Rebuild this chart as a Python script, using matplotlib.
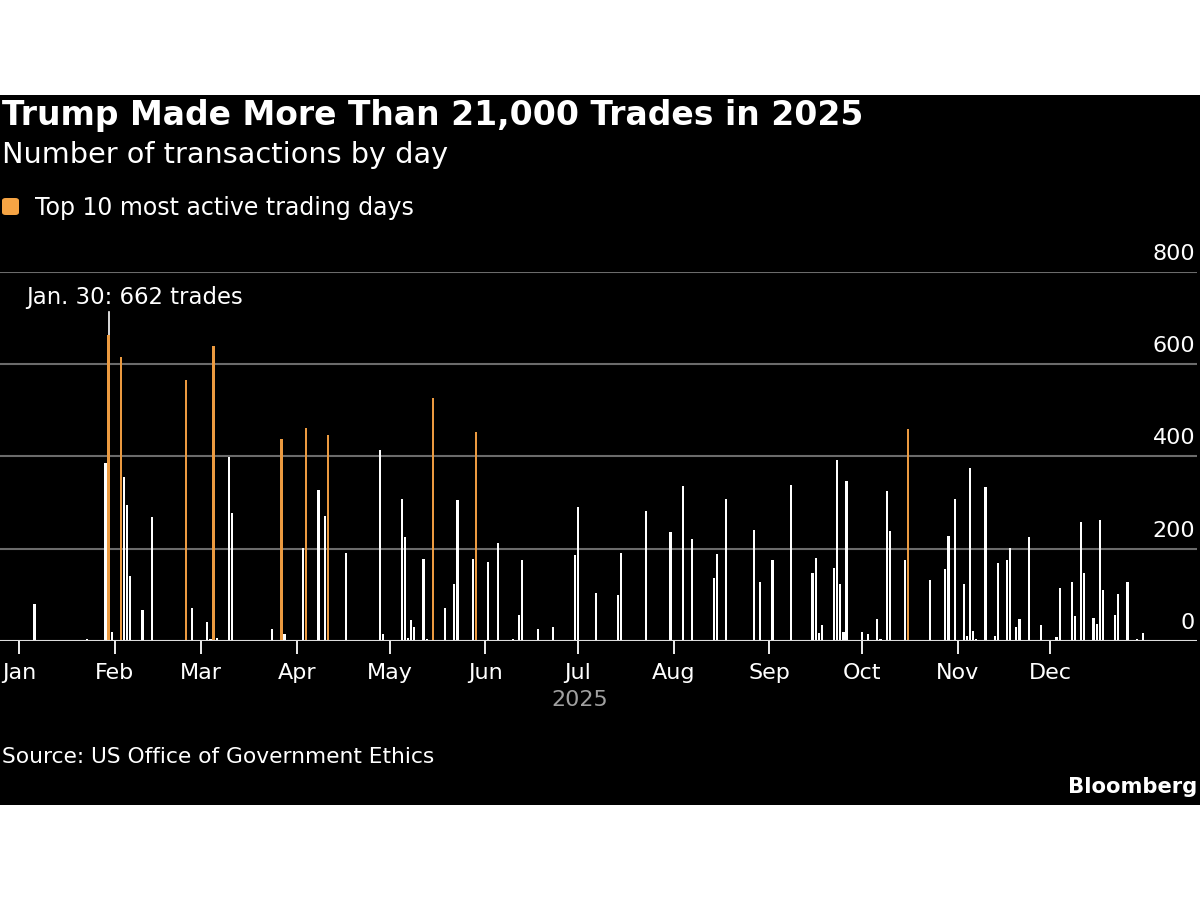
import numpy as np
import matplotlib
matplotlib.use("Agg")
import matplotlib.pyplot as plt
import matplotlib.dates as mdates
import matplotlib.transforms as mtransforms
from matplotlib.patches import Rectangle, FancyBboxPatch

# daily trade counts
trade_dates = [
    "2025-01-06", "2025-01-10", "2025-01-23", "2025-01-29", "2025-01-31",
    "2025-02-04", "2025-02-05", "2025-02-06", "2025-02-10", "2025-02-13", "2025-02-26",
    "2025-03-03", "2025-03-04", "2025-03-06", "2025-03-10", "2025-03-11", "2025-03-24", "2025-03-28",
    "2025-04-03", "2025-04-08", "2025-04-10", "2025-04-17", "2025-04-28", "2025-04-29",
    "2025-05-05", "2025-05-06", "2025-05-07", "2025-05-08", "2025-05-09", "2025-05-12", "2025-05-13",
    "2025-05-19", "2025-05-22", "2025-05-23", "2025-05-28",
    "2025-06-02", "2025-06-05", "2025-06-10", "2025-06-12", "2025-06-13", "2025-06-18", "2025-06-23",
    "2025-06-26", "2025-06-30",
    "2025-07-01", "2025-07-07", "2025-07-14", "2025-07-15", "2025-07-23", "2025-07-31",
    "2025-08-04", "2025-08-07", "2025-08-13", "2025-08-14", "2025-08-15", "2025-08-18", "2025-08-27",
    "2025-08-29",
    "2025-09-02", "2025-09-08", "2025-09-09", "2025-09-15", "2025-09-16", "2025-09-17", "2025-09-18",
    "2025-09-22", "2025-09-23", "2025-09-24", "2025-09-25", "2025-09-26",
    "2025-10-01", "2025-10-03", "2025-10-06", "2025-10-07", "2025-10-09", "2025-10-10", "2025-10-15",
    "2025-10-21", "2025-10-23", "2025-10-28", "2025-10-29", "2025-10-31",
    "2025-11-03", "2025-11-04", "2025-11-05", "2025-11-06", "2025-11-07", "2025-11-10", "2025-11-13",
    "2025-11-14", "2025-11-17", "2025-11-18", "2025-11-20", "2025-11-21", "2025-11-24", "2025-11-28",
    "2025-12-03", "2025-12-04", "2025-12-08", "2025-12-09", "2025-12-11", "2025-12-12", "2025-12-15",
    "2025-12-16", "2025-12-17", "2025-12-18", "2025-12-22", "2025-12-23", "2025-12-26", "2025-12-29",
    "2025-12-31",
]
trade_counts = [
    80, 2, 5, 387, 21,
    355, 295, 141, 67, 268, 73,
    41, 6, 8, 398, 277, 27, 15,
    201, 327, 272, 192, 414, 15,
    309, 226, 8, 47, 32, 178, 6,
    73, 125, 305, 179,
    172, 212, 4, 58, 176, 26, 30,
    2, 187,
    290, 104, 101, 191, 282, 237,
    336, 221, 3, 136, 190, 308, 240,
    128,
    176, 339, 3, 147, 180, 19, 35,
    158, 392, 125, 21, 347,
    21, 15, 49, 4, 325, 238, 177,
    3, 133, 157, 228, 308,
    125, 12, 376, 22, 5, 334, 12,
    170, 176, 201, 31, 48, 225, 35,
    9, 115, 129, 55, 259, 147, 50,
    37, 263, 111, 57, 102, 129, 4,
    17,
]

# top 10 most active days
top_dates = ["2025-01-30", "2025-02-03", "2025-02-24", "2025-03-05", "2025-03-27",
             "2025-04-04", "2025-04-11", "2025-05-15", "2025-05-29", "2025-10-16"]
top_counts = [662, 615, 566, 639, 437, 461, 446, 526, 453, 460]

month_starts = ["2025-%02d-01" % m for m in range(1, 13)]
y_ticks = [0, 200, 400, 600, 800]

W, H = 1200, 900
orange = "#eb9a40"
font = "DejaVu Sans"


def fx(x):
    return x / W


def fy(y):
    return 1 - y / H


fig = plt.figure(figsize=(12, 9), dpi=100)
fig.patch.set_facecolor("white")
fig.add_artist(Rectangle((0, fy(805)), 1, (805 - 95) / H, transform=fig.transFigure,
                         facecolor="black", edgecolor="none", zorder=-10))

ax = fig.add_axes([0, fy(641.3), fx(1197), (641.3 - 271.7) / H])
ax.set_facecolor("none")

x_all = mdates.date2num(np.array(trade_dates, dtype="datetime64[D]"))
x_top = mdates.date2num(np.array(top_dates, dtype="datetime64[D]"))
x_months = mdates.date2num(np.array(month_starts, dtype="datetime64[D]"))
start = x_months[0]

ax.bar(x_all, trade_counts, width=0.7, color="white", zorder=3)
ax.bar(x_top, top_counts, width=0.7, color=orange, zorder=3)

# leader line for the annotation
ax.plot([x_top[0], x_top[0]], [top_counts[0], 712], color="white", lw=1.2, zorder=2)
ax.text(start + 2.2, 744, "Jan. 30: 662 trades", color="white", fontsize=16.4,
        family=font, va="center", ha="left")

ax.set_xlim(start - 6.15, start + 381.5)
ax.set_ylim(0, 800)

for v in y_ticks[1:]:
    ax.axhline(v, color="#6b6b6b", lw=1.5, zorder=1)
ax.axhline(0, color="#dddddd", lw=1.5, zorder=4)

lab_tr = mtransforms.offset_copy(ax.get_yaxis_transform(), fig=fig, y=8, units="dots")
for v in y_ticks:
    ax.text(0.9985, v, str(v), transform=lab_tr, ha="right", va="bottom",
            color="white", fontsize=16, family=font)

for s in ax.spines.values():
    s.set_visible(False)
ax.set_yticks([])
ax.set_xticks(x_months)
ax.xaxis.set_major_formatter(mdates.DateFormatter("%b"))
ax.tick_params(axis="x", direction="out", length=9.5, width=1.3, color="white",
               labelcolor="white", labelsize=16, pad=6)
for t in ax.get_xticklabels():
    t.set_family(font)

fig.text(fx(580), fy(700), "2025", color="#a0a0a0", fontsize=16, family=font,
         ha="center", va="center")

fig.text(fx(2), fy(116), "Trump Made More Than 21,000 Trades in 2025", color="white",
         fontsize=23.8, weight="bold", family=font, va="center")
fig.text(fx(2), fy(155), "Number of transactions by day", color="white",
         fontsize=20.7, family=font, va="center")
fig.add_artist(FancyBboxPatch((fx(2), fy(215)), 17 / W, 17 / H,
                              boxstyle="round,pad=0,rounding_size=0.003",
                              transform=fig.transFigure, facecolor="#f6a444",
                              edgecolor="none"))
fig.text(fx(35), fy(208), "Top 10 most active trading days", color="white",
         fontsize=17, family=font, va="center")
fig.text(fx(2), fy(757), "Source: US Office of Government Ethics", color="white",
         fontsize=15.7, family=font, va="center")
fig.text(fx(1197), fy(787), "Bloomberg", color="white", fontsize=15.2, weight="bold",
         family=font, va="center", ha="right")

fig.savefig("out.png", dpi=100, facecolor=fig.get_facecolor())
